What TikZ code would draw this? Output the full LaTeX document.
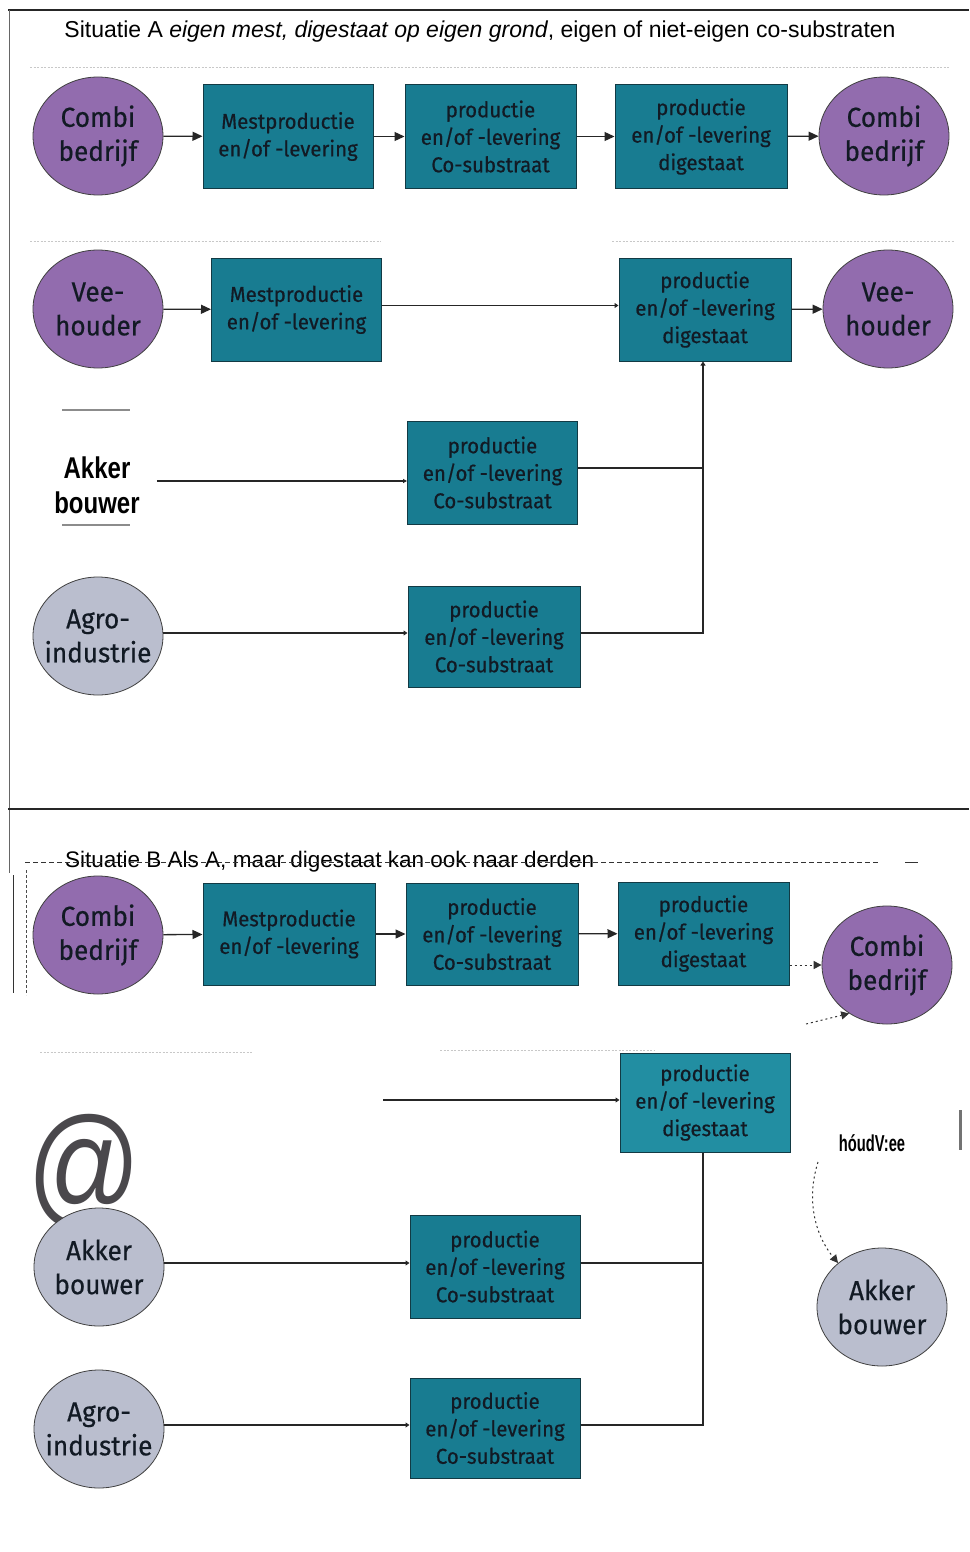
\documentclass[tikz,border=0pt]{standalone}
\usepackage{fontspec}
\setmainfont{Liberation Sans}
\newfontfamily\boxfont[FakeBold=0.5,FakeStretch=0.95]{Fira Sans}
\newfontfamily\narrowbold[FakeStretch=0.8]{Liberation Sans}
\usetikzlibrary{shapes.geometric,arrows.meta}
\definecolor{purp}{RGB}{146,108,174}
\definecolor{grayc}{RGB}{186,190,206}
\definecolor{tealbox}{RGB}{24,124,145}
\definecolor{tealB}{RGB}{34,142,162}
\definecolor{tealedge}{RGB}{18,58,68}
\definecolor{boxtext}{RGB}{18,26,36}
\definecolor{dotgray}{RGB}{200,200,200}
\definecolor{atgray}{RGB}{74,72,76}
\tikzset{
 proc/.style={rectangle, draw=tealedge, line width=1pt, fill=tealbox, minimum width=170pt, minimum height=103pt, inner sep=0pt, align=center, text=boxtext, font=\boxfont\fontsize{21.5}{27.5}\selectfont},
 actor/.style={ellipse, draw=black!75, line width=0.8pt, minimum width=130pt, minimum height=118pt, inner sep=0pt},
 purpnode/.style={actor, fill=purp},
 graynode/.style={actor, fill=grayc},
 actortext/.style={align=center, text=boxtext, inner sep=0pt, font=\boxfont\fontsize{27.5}{34}\selectfont},
 flow/.style={draw=black!85, line width=1.3pt, -{Triangle[length=10pt,width=9pt]}},
 feed/.style={draw=black!85, line width=1.3pt, -{Triangle[length=4pt,width=5pt]}},
 link/.style={draw=black!85, line width=1.3pt},
 dotline/.style={draw=dotgray, line width=1pt, dash pattern=on 2pt off 1.5pt},
 frameline/.style={draw=black!85, line width=1.6pt},
 scanmark/.style={draw=black!80, line width=1pt, dash pattern=on 2pt off 3pt},
}
\begin{document}
\begin{tikzpicture}[x=1pt,y=-1pt]
\useasboundingbox[fill=white] (0,0) rectangle (969,1552);

% frame lines
\draw[frameline, line width=2pt] (8,10) -- (969,10);
\draw[draw=black!60, line width=1pt] (9,10) -- (9,873);
\draw[frameline] (8,809) -- (969,809);
\draw[draw=black!80, line width=1pt] (13,875) -- (13,993);
\draw[draw=black!70, line width=0.8pt, dash pattern=on 3pt off 2pt] (26,870) -- (26,995);

% ===== Situatie A =====
\node[font=\fontsize{23}{27}\selectfont, anchor=center] (TA) at (480,32) {Situatie A \textit{eigen mest, digestaat op eigen grond}, eigen of niet-eigen co-substraten};
\draw[dotline] (30,68) -- (950,68);
\draw[dotline] (30,241) -- (381,241);
\draw[dotline] (612,241) -- (955,241);

% row 1
\node[purpnode] (A1a) at (98,136) {};
\node[actortext] (A1at) at (A1a) {Combi\\bedrijf};
\node[proc] (A1b) at (288,136.5) {Mestproductie\\en/of -levering};
\node[proc, minimum width=171pt] (A1c) at (490.5,136.5) {productie\\en/of -levering\\Co-substraat};
\node[proc, minimum width=172pt] (A1d) at (701,136.5) {productie\\en/of -levering\\digestaat};
\node[purpnode] (A1e) at (884,136) {};
\node[actortext] (A1et) at (A1e) {Combi\\bedrijf};
\draw[flow] (A1a) -- (A1b);
\draw[flow] (A1b) -- (A1c);
\draw[flow] (A1c) -- (A1d);
\draw[flow] (A1d) -- (A1e);

% row 2
\node[purpnode] (A2a) at (98,309) {};
\node[actortext] (A2at) at (A2a) {Vee-\\houder};
\node[proc] (A2b) at (296.5,309.5) {Mestproductie\\en/of -levering};
\node[proc, minimum width=172pt] (A2d) at (705,309.5) {productie\\en/of -levering\\digestaat};
\node[purpnode] (A2e) at (888,309) {};
\node[actortext] (A2et) at (A2e) {Vee-\\houder};
\draw[flow] (A2a) -- (A2b);
\draw[feed] ([yshift=4pt]A2b.east) -- ([yshift=4pt]A2d.west);
\draw[flow] (A2d) -- (A2e);

% row 3
\draw[draw=black!45, line width=1.2pt] (62,410) -- (130,410);
\draw[draw=black!45, line width=1.2pt] (62,525) -- (130,525);
\node[align=center, inner sep=0pt, font=\narrowbold\bfseries\fontsize{30}{35}\selectfont] (A3a) at (97,485) {Akker\\bouwer};
\node[proc] (A3c) at (492.5,472.5) {productie\\en/of -levering\\Co-substraat};
\coordinate (JA3) at (703,468);
\draw[feed, line width=2.8pt, -{Triangle[length=4pt,width=4pt]}] ([xshift=17pt]A3a.east |- 0,481) -- (A3c.west |- 0,481);
\draw[link] (A3c.east |- JA3) -- (JA3);

% row 4
\node[graynode] (A4a) at (98,636) {};
\node[actortext] (A4at) at (A4a) {Agro-\\industrie};
\node[proc, minimum width=172pt, minimum height=101pt] (A4c) at (494,636.5) {productie\\en/of -levering\\Co-substraat};
\coordinate (JA4) at (703,633);
\draw[feed] (A4a.east |- JA4) -- (A4c.west |- JA4);
\draw[link] (A4c.east |- JA4) -- (JA4) -- (JA3);
\draw[feed] (JA3) -- (JA3 |- A2d.south);

% ===== Situatie B =====
\node[font=\fontsize{22.5}{26}\selectfont, anchor=west, inner sep=0pt] (TB) at (65,862) {Situatie B Als A, maar digestaat kan ook naar derden};
\draw[draw=black!80, line width=0.8pt, dash pattern=on 5pt off 3pt] (25,862) -- (880,862);
\draw[draw=black!80, line width=0.8pt] (905,862) -- (918,862);
\draw[dotline] (40,1052) -- (252,1052);
\draw[dotline] (440,1050) -- (655,1050);

% row B1
\node[purpnode] (B1a) at (98,935) {};
\node[actortext] (B1at) at (B1a) {Combi\\bedrijf};
\node[proc, minimum width=172pt, minimum height=102pt] (B1b) at (289,934) {Mestproductie\\en/of -levering};
\node[proc, minimum width=172pt, minimum height=102pt] (B1c) at (492,934) {productie\\en/of -levering\\Co-substraat};
\node[proc, minimum width=171pt] (B1d) at (703.5,933.5) {productie\\en/of -levering\\digestaat};
\node[purpnode] (B1e) at (887,965) {};
\node[actortext] (B1et) at (B1e) {Combi\\bedrijf};
\draw[flow] (B1a) -- (B1b);
\draw[flow] (B1b) -- (B1c);
\draw[flow] (B1c) -- (B1d);
\draw[scanmark, -{Triangle[length=8pt,width=8pt]}] (B1d.east |- B1e) -- (B1e.west);
\coordinate (BVs) at (806,1024);
\draw[scanmark, -{Triangle[length=8pt,width=8pt]}] (BVs) -- (B1e.232);

% row B2
\node[proc, fill=tealB, minimum height=99pt] (B2d) at (705,1102.5) {productie\\en/of -levering\\digestaat};
\coordinate (B2s) at (383,1100);
\draw[feed] (B2s) -- (B2d.west |- B2s);
\node[text=atgray, inner sep=0pt, font=\fontsize{110}{110}\selectfont] (AT) at (84,1172) {\scalebox{1.02}[1.22]{@}};
\node[inner sep=0pt, font=\narrowbold\bfseries\fontsize{23}{26}\selectfont] (HV) at (872,1143) {\scalebox{0.8}[1]{hóudV:ee}};
\draw[draw=black!55, line width=3pt] (960,1110) -- (960,1150);

% row B3
\node[graynode] (B3a) at (99,1267) {};
\node[actortext] (B3at) at (B3a) {Akker\\bouwer};
\node[proc] (B3c) at (495,1266.5) {productie\\en/of -levering\\Co-substraat};
\node[graynode] (B3e) at (882,1307) {};
\node[actortext] (B3et) at (B3e) {Akker\\bouwer};
\coordinate (JB3) at (703,1263);
\draw[feed] (B3a.east |- JB3) -- (B3c.west |- JB3);
\draw[link] (B3c.east |- JB3) -- (JB3);
\coordinate (BD1) at (818,1162);
\draw[scanmark, -{Triangle[length=8pt,width=8pt]}] (BD1) .. controls (806,1200) and (815,1235) .. (B3e.135);

% row B4
\node[graynode] (B4a) at (99,1429) {};
\node[actortext] (B4at) at (B4a) {Agro-\\industrie};
\node[proc, minimum height=100pt] (B4c) at (495,1428) {productie\\en/of -levering\\Co-substraat};
\coordinate (JB4) at (703,1425);
\draw[feed] (B4a.east |- JB4) -- (B4c.west |- JB4);
\draw[link] (B4c.east |- JB4) -- (JB4) -- (JB3) -- (JB3 |- B2d.south);
\end{tikzpicture}
\end{document}
